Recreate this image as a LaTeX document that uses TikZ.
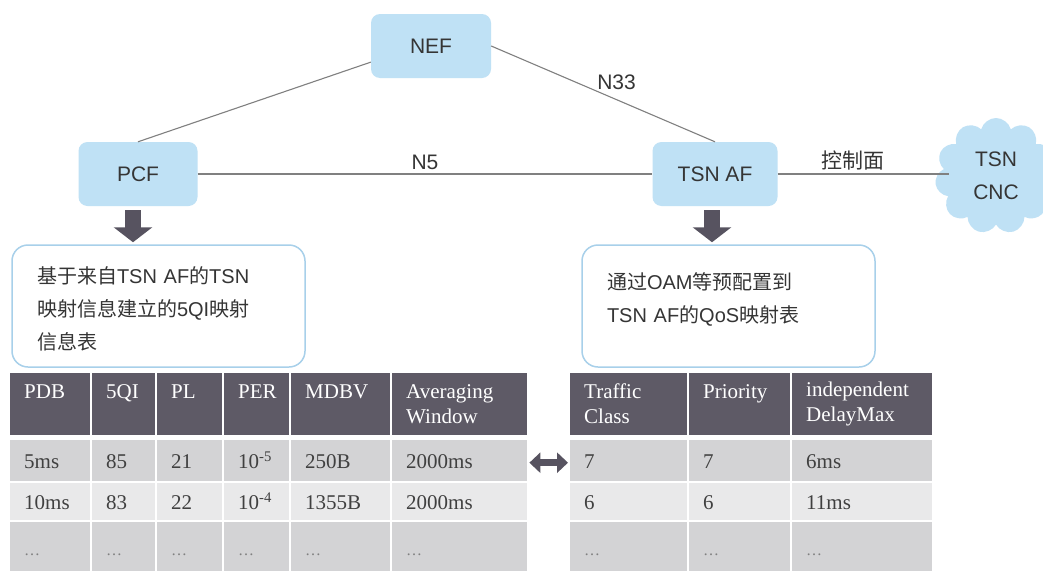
\documentclass[tikz,border=0pt]{standalone}
\usepackage{fontspec}
\setmainfont{Liberation Sans}
\newfontfamily\cjk{Noto Sans CJK SC}
\newfontfamily\tabfont{Liberation Serif}
\usetikzlibrary{arrows.meta,positioning,shapes.symbols}

\definecolor{nfblue}{HTML}{BFE1F5}
\definecolor{boxline}{HTML}{A8D0EA}
\definecolor{hdrgray}{HTML}{5E5A66}
\definecolor{cellmid}{HTML}{D3D3D5}
\definecolor{celllight}{HTML}{E9E9EA}
\definecolor{linegray}{HTML}{808080}
\definecolor{arrowgray}{HTML}{575360}
\definecolor{txtgray}{HTML}{353535}
\definecolor{celltxt}{HTML}{404040}

\begin{document}
\begin{tikzpicture}[x=1pt,y=-1pt,
    nf/.style={rectangle, rounded corners=9pt, fill=nfblue, text=txtgray,
      minimum width=120pt, minimum height=64pt, font=\fontsize{21}{25}\selectfont},
    link/.style={draw=linegray, line width=1.1pt},
    lbl/.style={text=txtgray, font=\fontsize{21}{25}\selectfont},
    note/.style={rectangle, rounded corners=16pt, draw=boxline, line width=1.5pt,
      fill=white, minimum width=293pt, minimum height=122pt, text width=243pt,
      align=left, text=txtgray, font=\fontsize{20}{33}\selectfont},
    down/.style={line width=16pt, draw=arrowgray, -{Triangle[width=38pt,length=15pt]}},
    cell/.style={rectangle, anchor=north west, inner xsep=14pt, inner ysep=0pt,
      align=left, text=celltxt, font=\tabfont\fontsize{21}{25}\selectfont},
    hdr/.style={cell, fill=hdrgray, text=white, minimum height=62pt},
    val/.style={cell, text height=18pt, text depth=2pt}]
  \useasboundingbox (0,0) rectangle (1043,570);
  \fill[white] (0,0) rectangle (1043,570);

  % network functions
  \node[nf] (nef) at (431,46) {NEF};
  \node[nf, minimum width=119pt] (pcf) at (138,174) {PCF};
  \node[nf, minimum width=125pt] (tsnaf) at (715,174) {TSN AF};
  \node[cloud, cloud puffs=11, aspect=1, fill=nfblue, text=txtgray, align=center,
    minimum width=122pt, minimum height=116pt, font=\fontsize{21}{33}\selectfont]
    (cnc) at (996,176) {TSN\\CNC};

  \draw[link] (nef.195) -- (pcf.north);
  \draw[link] (nef.east) -- node[lbl, pos=0.56, above=6pt] {N33} (tsnaf.north);
  \draw[link] (pcf.east) -- node[lbl, above] {N5} (tsnaf.west);
  \draw[link] (tsnaf.east) -- node[lbl, above, xshift=-10pt] {\cjk 控制面} ([xshift=12pt]tsnaf.east -| cnc.west);

  % mapping notes
  \node[note, text height=23pt] (leftnote) at (158.5,306)
    {{\cjk 基于来自}TSN AF{\cjk 的}TSN\\{\cjk 映射信息建立的}5QI{\cjk 映射}\\{\cjk 信息表}};
  \node[note, text depth=50pt] (rightnote) at (728.5,306)
    {{\cjk 通过}OAM{\cjk 等预配置到}\\TSN AF{\cjk 的}QoS{\cjk 映射表}};

  \draw[down] ([xshift=-5pt,yshift=-4pt]pcf.south) -- ([xshift=-5pt,yshift=2pt]pcf.south |- leftnote.north);
  \draw[down] ([xshift=-3pt,yshift=-4pt]tsnaf.south) -- ([xshift=-3pt,yshift=2pt]tsnaf.south |- rightnote.north);

  % 5QI table
  \foreach \x/\w/\t [count=\c] in {10/80/{PDB\\\mbox{}}, 92/63/{5QI\\\mbox{}},
      157/65/{PL\\\mbox{}}, 224/65/{PER\\\mbox{}}, 291/99/{MDBV\\\mbox{}},
      392/135/{Averaging\\Window}}
    {\pgfmathsetmacro\tw{\w-28}
     \node[hdr, text width=\tw pt, minimum width=\w pt] (l-0-\c) at (\x,373) {\t};}
  \foreach \x/\w/\t [count=\c] in {10/80/5ms, 92/63/85, 157/65/21,
      224/65/{10\textsuperscript{-5}}, 291/99/250B, 392/135/2000ms}
    {\pgfmathsetmacro\tw{\w-28}
     \node[val, fill=cellmid, text width=\tw pt, minimum width=\w pt, minimum height=41pt] (l-1-\c) at (\x,440) {\t};}
  \foreach \x/\w/\t [count=\c] in {10/80/10ms, 92/63/83, 157/65/22,
      224/65/{10\textsuperscript{-4}}, 291/99/1355B, 392/135/2000ms}
    {\pgfmathsetmacro\tw{\w-28}
     \node[val, fill=celllight, text width=\tw pt, minimum width=\w pt, minimum height=37pt] (l-2-\c) at (\x,483) {\t};}
  \foreach \x/\w [count=\c] in {10/80, 92/63, 157/65, 224/65, 291/99, 392/135}
    {\pgfmathsetmacro\tw{\w-28}
     \node[val, fill=cellmid, text width=\tw pt, minimum width=\w pt, minimum height=50pt,
       font=\tabfont\fontsize{16}{20}\selectfont, text=gray] (l-3-\c) at (\x,522) {\ldots};}

  % QoS table
  \foreach \x/\w/\t [count=\c] in {570/117/{Traffic\\Class}, 689/101/{Priority\\\mbox{}},
      792/140/{independent\\DelayMax}}
    {\pgfmathsetmacro\tw{\w-28}
     \node[hdr, text width=\tw pt, minimum width=\w pt] (r-0-\c) at (\x,373) {\t};}
  \foreach \x/\w/\t [count=\c] in {570/117/7, 689/101/7, 792/140/6ms}
    {\pgfmathsetmacro\tw{\w-28}
     \node[val, fill=cellmid, text width=\tw pt, minimum width=\w pt, minimum height=41pt] (r-1-\c) at (\x,440) {\t};}
  \foreach \x/\w/\t [count=\c] in {570/117/6, 689/101/6, 792/140/11ms}
    {\pgfmathsetmacro\tw{\w-28}
     \node[val, fill=celllight, text width=\tw pt, minimum width=\w pt, minimum height=37pt] (r-2-\c) at (\x,483) {\t};}
  \foreach \x/\w [count=\c] in {570/117, 689/101, 792/140}
    {\pgfmathsetmacro\tw{\w-28}
     \node[val, fill=cellmid, text width=\tw pt, minimum width=\w pt, minimum height=50pt,
       font=\tabfont\fontsize{16}{20}\selectfont, text=gray] (r-3-\c) at (\x,522) {\ldots};}

  \draw[line width=7pt, draw=arrowgray,
    {Triangle[width=20pt,length=11pt]}-{Triangle[width=20pt,length=11pt]}]
    ([xshift=2pt,yshift=-2pt]l-1-6.east) -- ([xshift=-2pt,yshift=-2pt]r-1-1.west);
\end{tikzpicture}
\end{document}
